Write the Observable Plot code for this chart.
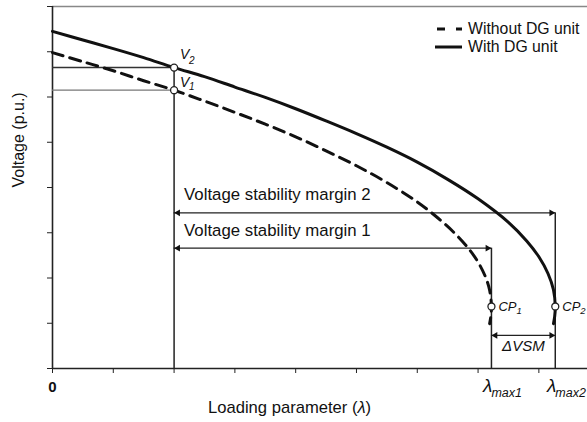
<!DOCTYPE html>
<html><head><meta charset="utf-8">
<script src="https://cdn.jsdelivr.net/npm/d3@7"></script>
<script src="https://cdn.jsdelivr.net/npm/@observablehq/plot@0.6"></script>
<style>
body{margin:0;background:#fff;font-family:"Liberation Sans",Arial,sans-serif;color:#111;}
#wrap{position:relative;width:587px;height:422px;}
.lg{position:absolute;left:435px;font-size:15.8px;line-height:18px;display:flex;align-items:center;}
.lg svg{margin-right:5px;}
#xt{position:absolute;left:208px;top:399px;font-size:16.6px;line-height:18px;white-space:nowrap;}
</style></head><body><div id="wrap"></div>
<script>
// ---- data ----
const xTicks = [0, 1, 2, 3, 4, 5, 6, 7, 8];
const yTicks = [0, 1, 2, 3, 4, 5, 6, 7, 8];

const lambdaWithDG  = [0, 0.5, 1, 1.5, 2, 2.5, 3, 3.5, 4, 4.5, 5, 5.5, 6, 6.5, 7, 7.5, 7.8, 8.0, 8.15, 8.24, 8.27, 8.26, 8.24];
const voltageWithDG = [7.45, 7.26, 7.07, 6.87, 6.65, 6.45, 6.22, 5.99, 5.74, 5.47, 5.19, 4.89, 4.56, 4.18, 3.75, 3.23, 2.82, 2.47, 2.10, 1.74, 1.37, 1.15, 0.99];

const lambdaWithoutDG  = [0, 0.5, 1, 1.5, 2, 2.5, 3, 3.5, 4, 4.5, 5, 5.5, 6, 6.3, 6.6, 6.85, 7.0, 7.12, 7.19, 7.22, 7.21, 7.19];
const voltageWithoutDG = [6.98, 6.78, 6.58, 6.36, 6.15, 5.91, 5.66, 5.40, 5.12, 4.81, 4.48, 4.11, 3.68, 3.37, 3.01, 2.64, 2.35, 2.03, 1.73, 1.37, 1.15, 0.99];

const pointNames   = ["V", "V", "CP", "CP"];
const pointSubs    = ["2", "1", "1", "2"];
const pointLambda  = [2, 2, 7.22, 8.27];
const pointVoltage = [6.65, 6.15, 1.37, 1.37];

const marginLabels = ["Voltage stability margin 2", "Voltage stability margin 1", "ΔVSM"];
const marginFrom   = [2, 2, 7.22];
const marginTo     = [8.27, 7.22, 8.27];
const marginLevel  = [3.44, 2.66, 0.73];

const lambdaMaxSubs = ["max1", "max2"];
const lambdaMaxVals = [7.22, 8.27];

const legendLabels = ["Without DG unit", "With DG unit"];
const yTitle = "Voltage (p.u.)";

// ---- tables ----
const withDG = lambdaWithDG.map((l, i) => ({l, v: voltageWithDG[i]}));
const withoutDG = lambdaWithoutDG.map((l, i) => ({l, v: voltageWithoutDG[i]}));
const pts = pointNames.map((n, i) => ({n, s: pointSubs[i], l: pointLambda[i], v: pointVoltage[i]}));
const margins = marginLabels.map((t, i) => ({t, a: marginFrom[i], b: marginTo[i], y: marginLevel[i]}));
const lmax = lambdaMaxSubs.map((s, i) => ({s, l: lambdaMaxVals[i]}));
const vLines = [
  {x: pts[0].l, y2: pts[0].v},
  {x: lambdaMaxVals[0], y2: marginLevel[1]},
  {x: lambdaMaxVals[1], y2: marginLevel[0]}
];
const font = "'Liberation Sans', Arial, sans-serif";

const chart = Plot.plot({
  width: 587, height: 422,
  marginLeft: 52, marginRight: 0, marginTop: 6, marginBottom: 54,
  style: {fontFamily: font, color: "#222", background: "white", overflow: "visible"},
  x: {domain: [0, 8.8], ticks: xTicks, tickSize: 5, tickFormat: () => "", label: null},
  y: {domain: [0, 8], ticks: yTicks, tickSize: 5, tickFormat: () => "", label: null},
  marks: [
    Plot.ruleY([8], {stroke: "#888", strokeWidth: 1.6}),
    Plot.ruleY([0], {stroke: "#222", strokeWidth: 1.6}),
    Plot.ruleX([0], {stroke: "#222", strokeWidth: 1.6}),
    // reference lines
    Plot.ruleY([pts[0]], {y: "v", x1: 0, x2: "l", stroke: "#333", strokeWidth: 1.5}),
    Plot.ruleY([pts[1]], {y: "v", x1: 0, x2: "l", stroke: "#777", strokeWidth: 1.2}),
    Plot.ruleX(vLines, {x: "x", y1: 0, y2: "y2", stroke: "#222", strokeWidth: 1.5}),
    Plot.ruleY(margins, {y: "y", x1: "a", x2: "b", stroke: "#222", strokeWidth: 1.3}),
    Plot.dot(margins, {x: "a", y: "y", symbol: "triangle", r: 2.5, rotate: -90, dx: 3.9, fill: "#111", stroke: "none"}),
    Plot.dot(margins, {x: "b", y: "y", symbol: "triangle", r: 2.5, rotate: 90, dx: -3.9, fill: "#111", stroke: "none"}),
    // curves
    Plot.line(withoutDG, {x: "l", y: "v", stroke: "#111", strokeWidth: 3, strokeDasharray: "11,7", curve: "catmull-rom"}),
    Plot.line(withDG, {x: "l", y: "v", stroke: "#111", strokeWidth: 3, curve: "catmull-rom"}),
    Plot.dot(pts, {x: "l", y: "v", r: 3.5, fill: "white", stroke: "#222", strokeWidth: 1.3}),
    // point labels
    Plot.text(pts.slice(0, 1), {x: "l", y: "v", text: "n", dx: 6, dy: -13, textAnchor: "start", fontStyle: "italic", fontSize: 14, fill: "#111"}),
    Plot.text(pts.slice(0, 1), {x: "l", y: "v", text: "s", dx: 15, dy: -7, textAnchor: "start", fontStyle: "italic", fontSize: 10, fill: "#111"}),
    Plot.text(pts.slice(1, 2), {x: "l", y: "v", text: "n", dx: 6, dy: -8, textAnchor: "start", fontStyle: "italic", fontSize: 14, fill: "#111"}),
    Plot.text(pts.slice(1, 2), {x: "l", y: "v", text: "s", dx: 15, dy: -3, textAnchor: "start", fontStyle: "italic", fontSize: 10, fill: "#111"}),
    Plot.text(pts.slice(2), {x: "l", y: "v", text: "n", dx: 7, dy: 0, textAnchor: "start", fontStyle: "italic", fontSize: 13, fill: "#111"}),
    Plot.text(pts.slice(2), {x: "l", y: "v", text: "s", dx: 25, dy: 4, textAnchor: "start", fontStyle: "italic", fontSize: 9.5, fill: "#111"}),
    // margin labels
    Plot.text(margins.slice(0, 2), {x: "a", y: "y", text: "t", dx: 10, dy: -18, textAnchor: "start", fontSize: 16.8, fill: "#111"}),
    Plot.text(margins.slice(2), {x: d => (d.a + d.b) / 2, y: "y", text: "t", dy: 11, fontStyle: "italic", fontSize: 15, fill: "#111"}),
    // x labels
    Plot.text([0], {x: d => d, text: d => String(d), frameAnchor: "bottom", dy: 23, fontSize: 15, fontWeight: "bold", fill: "#111"}),
    Plot.text(lmax, {x: "l", text: () => "λ", frameAnchor: "bottom", dy: 23, dx: 1, textAnchor: "end", fontStyle: "italic", fontSize: 19, fill: "#111"}),
    Plot.text(lmax, {x: "l", text: "s", frameAnchor: "bottom", dy: 28, dx: 0, textAnchor: "start", fontStyle: "italic", fontSize: 12.5, fill: "#111"}),
    // y title
    Plot.text([yTitle], {text: d => d, frameAnchor: "left", rotate: -90, dx: -34, fontSize: 16, fill: "#111"})
  ]
});

const wrap = document.getElementById("wrap");
wrap.appendChild(chart);

// legend
const dashes = ["8,11", null];
const legendTops = [20, 38];
legendLabels.forEach((lab, i) => {
  const row = document.createElement("div");
  row.className = "lg";
  row.style.top = legendTops[i] + "px";
  const dash = dashes[i] ? ` stroke-dasharray="${dashes[i]}"` : "";
  const x1 = dashes[i] ? 2 : 0;
  row.innerHTML = `<svg width="28" height="6"><line x1="${x1}" x2="27" y1="3" y2="3" stroke="#111" stroke-width="3"${dash}/></svg><span>${lab}</span>`;
  wrap.appendChild(row);
});

// x title
const xt = document.createElement("div");
xt.id = "xt";
xt.innerHTML = "Loading parameter (<i>λ</i>)";
wrap.appendChild(xt);
</script></body></html>
